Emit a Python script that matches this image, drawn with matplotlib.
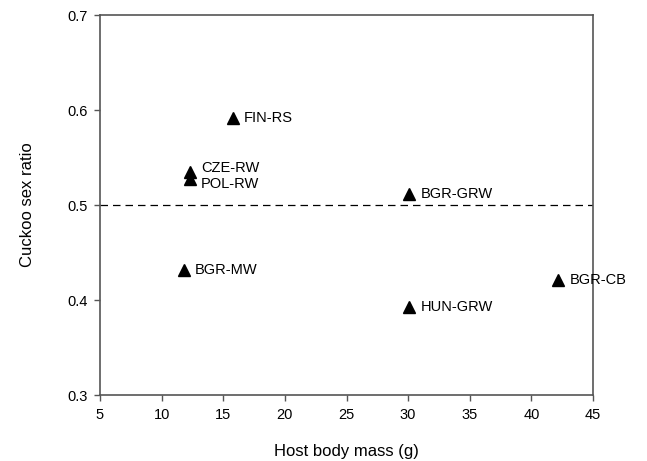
import matplotlib
matplotlib.use("Agg")
import matplotlib.pyplot as plt

plt.rcParams['font.family'] = ['Liberation Sans', 'DejaVu Sans']

labels = ["FIN-RS", "CZE-RW", "POL-RW", "BGR-GRW", "BGR-MW", "HUN-GRW", "BGR-CB"]
mass = [15.8, 12.3, 12.3, 30.1, 11.8, 30.1, 42.2]
ratio = [0.592, 0.535, 0.527, 0.512, 0.432, 0.393, 0.421]
# small vertical nudges (points) for overlapping labels
label_dy = [0, 3, -3, 0, 0, 0, 0]

fig = plt.figure(figsize=(6.47, 4.61), dpi=100)
ax = fig.add_axes([100/647, 1-395/461, 493/647, 380/461])

ax.plot(mass, ratio, linestyle='none', marker='^', color='black', markersize=9)
for x, y, t, dy in zip(mass, ratio, labels, label_dy):
    ax.annotate(t, (x, y), xytext=(8, dy), textcoords='offset points',
                va='center', ha='left', fontsize=10.5)

ax.axhline(0.5, color='black', linestyle=(0, (6, 4)), linewidth=0.9)

ax.set_xlim(5, 45)
ax.set_ylim(0.3, 0.7)
ax.set_xticks(range(5, 46, 5))
ax.set_yticks([0.3, 0.4, 0.5, 0.6, 0.7])
ax.set_yticklabels(["0.3", "0.4", "0.5", "0.6", "0.7"])
ax.tick_params(direction='out', length=4, width=1, labelsize=10.5, colors='#555555',
               labelcolor='black', top=False, right=False, pad=5)
for s in ax.spines.values():
    s.set_color('#555555')
    s.set_linewidth(1.2)
ax.set_xlabel("Host body mass (g)", fontsize=12)
ax.set_ylabel("Cuckoo sex ratio", fontsize=12)
ax.xaxis.set_label_coords(0.5, -(444-395)/380, transform=ax.transAxes)
ax.yaxis.set_label_coords(-(100-35)/493, 0.5, transform=ax.transAxes)

fig.savefig("out.png", dpi=100)
